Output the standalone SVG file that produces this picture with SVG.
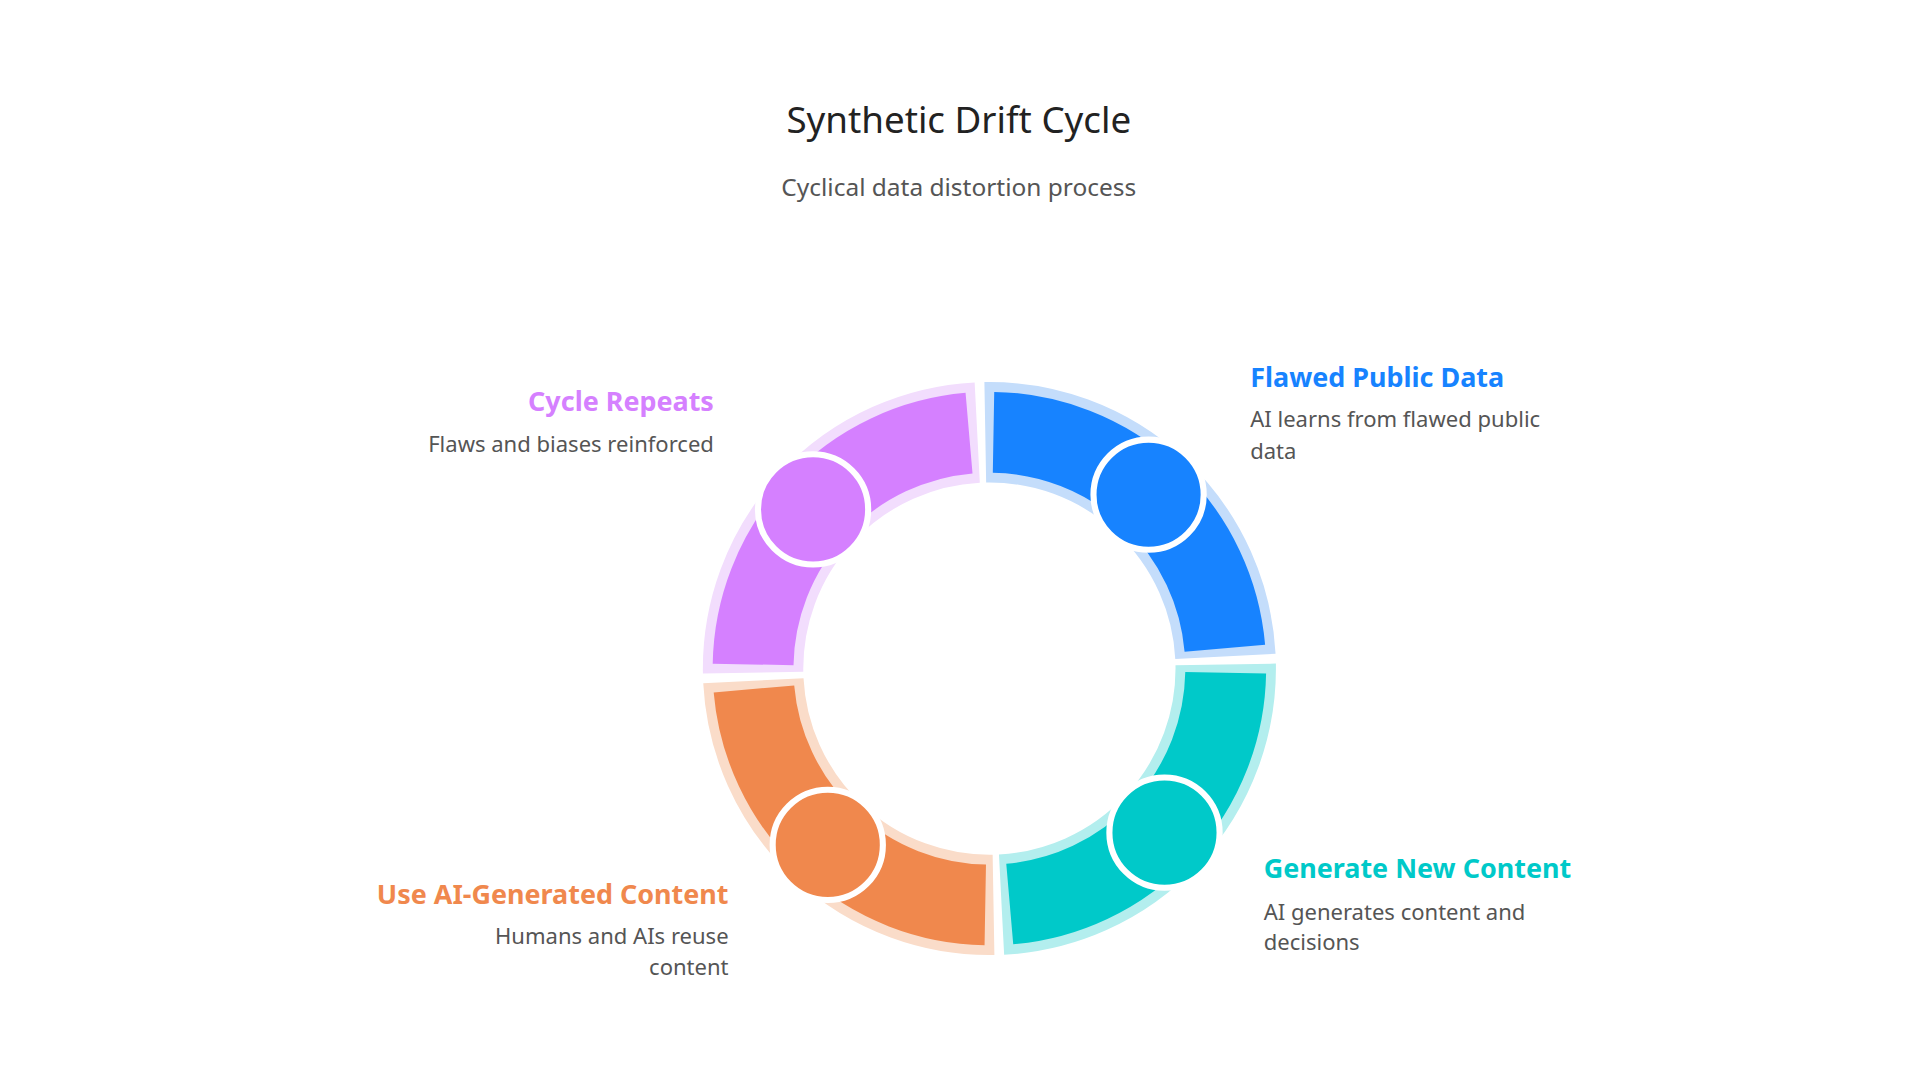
<svg xmlns="http://www.w3.org/2000/svg" width="1920" height="1080" viewBox="0 0 1920 1080">
<style>
.t{font-family:"Noto Sans","Open Sans","Liberation Sans",sans-serif}
.h{fill:none;stroke-width:82;stroke-dasharray:296.4 1000}
.m{fill:none;stroke-width:66;stroke-dasharray:283 1000}
.d{font-size:18px;fill:#555}
.l{font-size:22px;font-weight:bold}
.c{stroke:#fff;stroke-width:5}
</style>
<rect width="1920" height="1080" fill="#fff"/>
<g transform="scale(1.2245)">
<text class="t" x="783" y="109" text-anchor="middle" font-size="30" fill="#222">Synthetic Drift Cycle</text>
<text class="t" x="783" y="160" text-anchor="middle" font-size="20" fill="#555">Cyclical data distortion process</text>
<g id="flawed">
<circle class="h" cx="808" cy="546" r="193" stroke="#C4DDFB" transform="rotate(-91 808 546)"/>
<circle class="m" cx="808" cy="546" r="193" stroke="#1783FF" transform="rotate(-89 808 546)"/>
<circle class="c" cx="938" cy="404" r="45" fill="#1783FF"/>
<text class="t l" x="1021" y="316" fill="#1783FF">Flawed Public Data</text>
<text class="t d" x="1021" y="349">AI learns from flawed public</text>
<text class="t d" x="1021" y="375">data</text>
</g>
<g id="generate">
<circle class="h" cx="808" cy="546" r="193" stroke="#B3EEEE" transform="rotate(-1 808 546)"/>
<circle class="m" cx="808" cy="546" r="193" stroke="#00C9C9" transform="rotate(1 808 546)"/>
<circle class="c" cx="951" cy="680" r="45" fill="#00C9C9"/>
<text class="t l" x="1032" y="717" fill="#00C9C9">Generate New Content</text>
<text class="t d" x="1032" y="751">AI generates content and</text>
<text class="t d" x="1032" y="776">decisions</text>
</g>
<g id="use">
<circle class="h" cx="808" cy="546" r="193" stroke="#FADCC9" transform="rotate(89 808 546)"/>
<circle class="m" cx="808" cy="546" r="193" stroke="#F0884D" transform="rotate(91 808 546)"/>
<circle class="c" cx="676" cy="690" r="45" fill="#F0884D"/>
<text class="t l" x="595" y="738" text-anchor="end" fill="#F0884D">Use AI-Generated Content</text>
<text class="t d" x="595" y="771" text-anchor="end">Humans and AIs reuse</text>
<text class="t d" x="595" y="796" text-anchor="end">content</text>
</g>
<g id="repeat">
<circle class="h" cx="808" cy="546" r="193" stroke="#F2DDFD" transform="rotate(179 808 546)"/>
<circle class="m" cx="808" cy="546" r="193" stroke="#D580FF" transform="rotate(181 808 546)"/>
<circle class="c" cx="664" cy="416" r="45" fill="#D580FF"/>
<text class="t l" x="583" y="336" text-anchor="end" fill="#D580FF">Cycle Repeats</text>
<text class="t d" x="583" y="369" text-anchor="end">Flaws and biases reinforced</text>
</g>
<g id="connectors"/>
</g>
</svg>
